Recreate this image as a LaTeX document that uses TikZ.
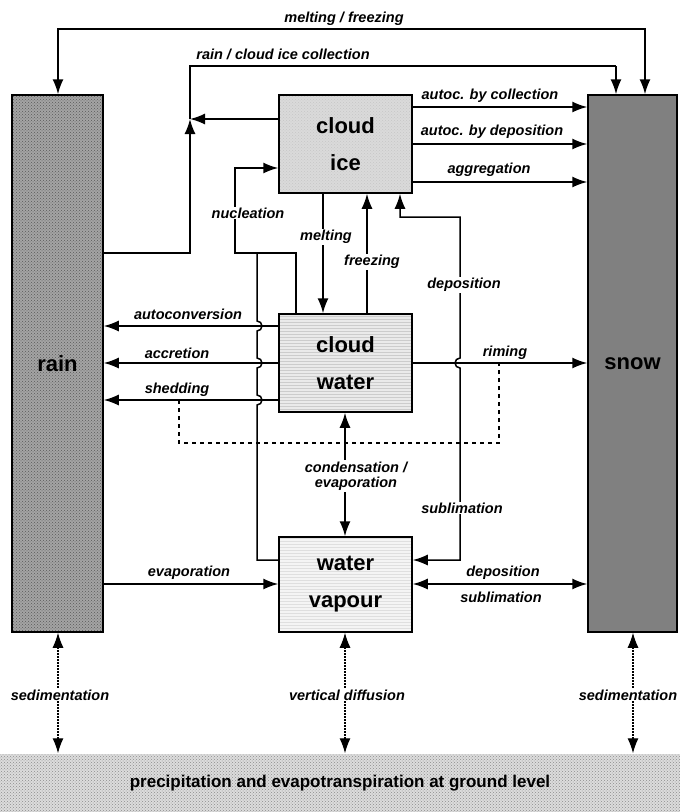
\documentclass[tikz,border=0pt]{standalone}
\usepackage{fontspec}
\setmainfont{Liberation Sans}
\usetikzlibrary{arrows.meta,patterns}
\definecolor{raincol}{HTML}{A4A4A4}
\definecolor{snowcol}{HTML}{808080}
\definecolor{icecol}{HTML}{DADADA}
\definecolor{watercol}{HTML}{EAEAEA}
\definecolor{vapcol}{HTML}{F4F4F4}
\definecolor{groundcol}{HTML}{DCDCDC}
\begin{document}
\begin{tikzpicture}[x=1pt,y=-1pt,
  line width=1.5pt,
  box/.style={draw=black, line width=1.5pt, inner sep=0pt, font=\fontsize{22}{37}\selectfont\bfseries, align=center},
  lbl/.style={font=\fontsize{14.5}{15.5}\selectfont\bfseries\itshape, inner sep=1pt, align=center},
  wlbl/.style={lbl, fill=white},
  arr/.style={-{Latex[length=15pt,width=11pt]}},
  darr/.style={{Latex[length=15pt,width=11pt]}-{Latex[length=15pt,width=11pt]}},
  dotline/.style={darr, line width=1.1pt, dash pattern=on 1.5pt off 1.5pt},
]
\useasboundingbox (0,0) rectangle (680,812);

% boxes
\node[box, preaction={fill=raincol}, pattern=crosshatch dots, pattern color=gray!70!black, minimum width=91pt, minimum height=537pt] (rain) at (57.5,363.5) {rain};
\node[box, fill=snowcol, minimum width=89pt, minimum height=537pt] (snow) at (632.5,363.5) {snow};
\node[box, preaction={fill=icecol}, pattern=crosshatch dots, pattern color=gray!45, minimum width=133pt, minimum height=98pt] (ice) at (345.5,144) {cloud\\ice};
\node[box, preaction={fill=watercol}, pattern=horizontal lines, pattern color=gray!40, minimum width=133pt, minimum height=98pt] (water) at (345.5,363) {cloud\\water};
\node[box, preaction={fill=vapcol}, pattern=horizontal lines, pattern color=gray!25, minimum width=133pt, minimum height=95pt] (vapour) at (345.5,584.5) {water\\vapour};
\node[preaction={fill=groundcol}, pattern=crosshatch dots, pattern color=gray!90, draw=none, minimum width=680pt, minimum height=58pt, inner sep=0pt,
      font=\fontsize{17}{19}\selectfont\bfseries] (ground) at (340,783) {precipitation and evapotranspiration at ground level};

% melting / freezing (top)
\draw[darr] (rain.north -| 58,0) -- (58,29) -- (645,29) -- (snow.north -| 645,0);
% rain / cloud ice collection
\draw (190,119) -- (190,66) -- (616,66);
\draw[arr] (616,66) -- (snow.north -| 616,0);
\draw[arr] (rain.east |- 0,253) -- (190,253) -- (190,119);
\draw[arr] (ice.west |- 0,119) -- (190,119);
% cloud ice -> snow
\draw[arr] (ice.east |- 0,107) -- (snow.west |- 0,107);
\draw[arr] (ice.east |- 0,144) -- (snow.west |- 0,144);
\draw[arr] (ice.east |- 0,182) -- (snow.west |- 0,182);
% nucleation
\draw[arr] (water.north -| 296,0) -- (296,253) -- (235,253) -- (235,168) -- (ice.west |- 0,168);
\draw (257,253) -- (257,321) arc[start angle=90, end angle=-90, radius=5pt]
      -- (257,358) arc[start angle=90, end angle=-90, radius=5pt]
      -- (257,395) arc[start angle=90, end angle=-90, radius=5pt]
      -- (257,560) -- (vapour.west |- 0,560);
% melting / freezing between ice and water
\draw[arr] (ice.south -| 323,0) -- (water.north -| 323,0);
\draw[arr] (water.north -| 367,0) -- (ice.south -| 367,0);
% deposition / sublimation between vapour and ice
\draw[darr] (ice.south -| 400,0) -- (400,217) -- (460,217) -- (460,358)
      arc[start angle=90, end angle=270, radius=5pt] -- (460,560) -- (vapour.east |- 0,560);
% cloud water -> rain
\draw[arr] (water.west |- 0,326) -- (rain.east |- 0,326);
\draw[arr] (water.west |- 0,363) -- (rain.east |- 0,363);
\draw[arr] (water.west |- 0,400) -- (rain.east |- 0,400);
% riming
\draw[arr] (water.east |- 0,363) -- (snow.west |- 0,363);
% dashed link shedding / riming
\draw[line width=1.5pt, dash pattern=on 4pt off 4pt] (179,400) -- (179,443) -- (499,443) -- (499,363);
% condensation / evaporation
\draw[darr] (water.south -| 345,0) -- (vapour.north -| 345,0);
% evaporation
\draw[arr] (rain.east |- 0,584) -- (vapour.west |- 0,584);
% deposition / sublimation vapour - snow
\draw[darr] (vapour.east |- 0,584) -- (snow.west |- 0,584);
% sedimentation / diffusion
\draw[dotline] (rain.south -| 58,0) -- (ground.north -| 58,0);
\draw[dotline] (vapour.south -| 345,0) -- (ground.north -| 345,0);
\draw[dotline] (snow.south -| 633,0) -- (ground.north -| 633,0);

% labels
\node[lbl] (l1) at (344,19) {melting / freezing};
\node[lbl] (l2) at (283,54) {rain / cloud ice collection};
\node[lbl] (l3) at (490,96) {autoc. by collection};
\node[lbl] (l4) at (492,132) {autoc. by deposition};
\node[lbl] (l5) at (489,170) {aggregation};
\node[wlbl] (l6) at (248,213) {nucleation};
\node[wlbl] (l7) at (326,237) {melting};
\node[wlbl] (l8) at (372,262) {freezing};
\node[wlbl] (l9) at (464,285) {deposition};
\node[lbl] (l10) at (188,314) {autoconversion};
\node[lbl] (l11) at (177,353) {accretion};
\node[lbl] (l12) at (177,390) {shedding};
\node[lbl] (l13) at (505,353) {riming};
\node[wlbl] (l14) at (356,476) {condensation /\\evaporation};
\node[wlbl] (l15) at (462,508) {sublimation};
\node[lbl] (l16) at (189,573) {evaporation};
\node[lbl] (l17) at (503,573) {deposition};
\node[lbl] (l18) at (501,597) {sublimation};
\node[wlbl] (l19) at (60,695) {sedimentation};
\node[wlbl] (l20) at (347,695) {vertical diffusion};
\node[wlbl, inner sep=0.5pt] (l21) at (628,695) {sedimentation};
\end{tikzpicture}
\end{document}
